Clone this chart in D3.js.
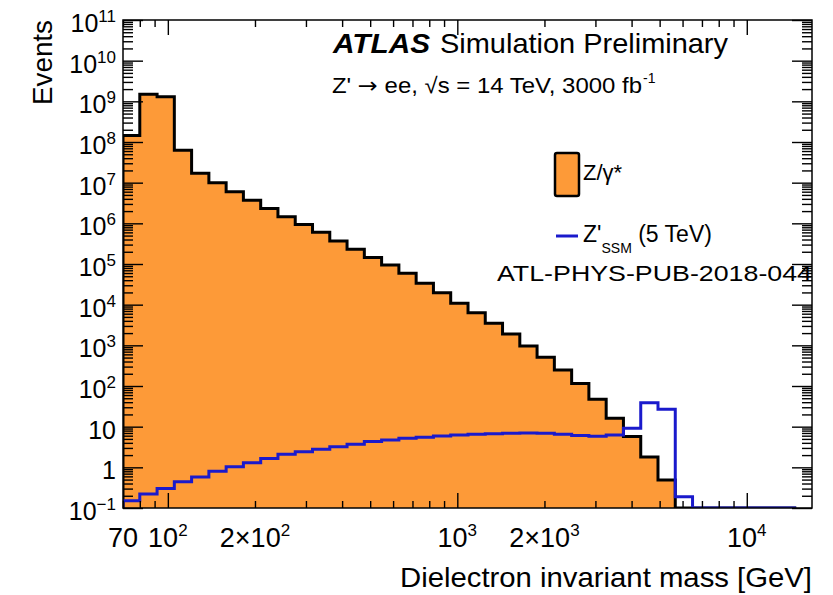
<!DOCTYPE html>
<html>
<head>
<meta charset="utf-8">
<script src="https://cdn.jsdelivr.net/npm/d3@7"></script>
<style>
  body { margin: 0; background: #fff; }
  svg { display: block; font-family: "Liberation Sans", Arial, Helvetica, sans-serif; }
</style>
</head>
<body>
<svg id="chart"></svg>
<script>
// histogram bin edges, dielectron mass [GeV]
const binEdges = [70, 80, 91.8, 105.3, 120.8, 138.6, 159.0, 182.4, 209.3, 240.1,
  275.5, 316.1, 362.6, 416.0, 477.3, 547.6, 628.3, 720.8, 827.0, 948.8,
  1089, 1249, 1433, 1644, 1886, 2164, 2483, 2848, 3268, 3749,
  4302, 4935, 5662, 6496, 7453, 8551, 9811, 11256, 12914, 14817];

// Z/gamma* Drell-Yan events per bin
const dyEvents = [1.45e8, 1.5e9, 1.3e9, 6.3e7, 1.7e7, 1.0e7, 6.0e6, 3.7e6, 2.3e6, 1.45e6,
  9.4e5, 6.0e5, 3.7e5, 2.3e5, 1.45e5, 9.4e4, 5.9e4, 3.35e4, 1.97e4, 1.08e4,
  6.3e3, 3.5e3, 1.9e3, 960, 507, 247, 116, 47, 16, 5.7,
  1.8, 0.49, 0, 0, 0, 0, 0, 0, 0];

// Z'_SSM (5 TeV) signal events per bin
const zpEvents = [0.15, 0.22, 0.30, 0.44, 0.58, 0.80, 1.04, 1.3, 1.66, 2.1,
  2.4, 2.8, 3.2, 3.7, 4.3, 4.7, 5.2, 5.5, 5.9, 6.2,
  6.5, 6.7, 6.9, 7.0, 6.9, 6.5, 6.1, 5.8, 6.2, 9.1,
  38.8, 26.7, 0.19, 0, 0, 0, 0, 0, 0];

// axis ticks and labels
const yTickExps = [-1, 0, 1, 2, 3, 4, 5, 6, 7, 8, 9, 10, 11];
const xMajorTicks = [100, 1000, 10000];
const xMinorTicks = [70, 80, 90, 200, 300, 400, 500, 600, 700, 800, 900,
  2000, 3000, 4000, 5000, 6000, 7000, 8000, 9000];
const xLabelValues = [70, 100, 200, 1000, 2000, 10000];
const xLabelBase = ["70", "10", "2\u00d710", "10", "2\u00d710", "10"];
const xLabelExp = ["", "2", "2", "3", "3", "4"];

const W = 833, H = 595;
const frame = {left: 123, top: 20, right: 812, bottom: 508};
const orange = "#fd9a38", blue = "#1a1acc";

const svg = d3.select("#chart").attr("width", W).attr("height", H);

const x = d3.scaleLog().domain([70, 16800]).range([frame.left, frame.right]);
const y = d3.scaleLog().domain([0.1, 1e11]).range([frame.bottom, frame.top]).clamp(true);
const yFloor = y.domain()[0];

svg.append("clipPath").attr("id", "plotclip")
  .append("rect")
  .attr("x", frame.left).attr("y", frame.top)
  .attr("width", frame.right - frame.left).attr("height", frame.bottom - frame.top);

// step outline points for a histogram
function stepPoints(vals) {
  const pts = [[binEdges[0], 0]];
  vals.forEach((v, i) => {
    pts.push([binEdges[i], v]);
    pts.push([binEdges[i + 1], v]);
  });
  pts.push([binEdges[binEdges.length - 1], 0]);
  return pts;
}

const yOf = v => y(Math.max(v, yFloor * 1e-3));
const stepLine = d3.line().x(d => x(d[0])).y(d => yOf(d[1]));
const stepArea = d3.area().x(d => x(d[0])).y0(y(yFloor)).y1(d => yOf(d[1]));

const plot = svg.append("g").attr("clip-path", "url(#plotclip)");

plot.append("path")
  .datum(stepPoints(dyEvents))
  .attr("fill", orange)
  .attr("d", stepArea);

plot.append("path")
  .datum(stepPoints(dyEvents))
  .attr("fill", "none")
  .attr("stroke", "#000")
  .attr("stroke-width", 3)
  .attr("stroke-linejoin", "miter")
  .attr("d", stepLine);

// ticks
function yMinorValues() {
  const out = [];
  yTickExps.slice(0, -1).forEach(k => {
    for (let n = 2; n <= 9; n++) out.push(n * Math.pow(10, k));
  });
  return out;
}
const yMajorValues = yTickExps.map(k => Math.pow(10, k));

function tickStyle(g) {
  g.select(".domain").remove();
  g.selectAll("line").attr("stroke", "#000").attr("stroke-width", 1.4);
  g.selectAll("text").remove();
}

svg.append("g").attr("transform", `translate(0,${frame.bottom})`)
  .call(d3.axisBottom(x).tickValues(xMajorTicks).tickSize(-15).tickFormat(""))
  .call(tickStyle);
svg.append("g").attr("transform", `translate(0,${frame.bottom})`)
  .call(d3.axisBottom(x).tickValues(xMinorTicks).tickSize(-7).tickFormat(""))
  .call(tickStyle);
svg.append("g").attr("transform", `translate(0,${frame.top})`)
  .call(d3.axisTop(x).tickValues(xMajorTicks).tickSize(-15).tickFormat(""))
  .call(tickStyle);
svg.append("g").attr("transform", `translate(0,${frame.top})`)
  .call(d3.axisTop(x).tickValues(xMinorTicks).tickSize(-7).tickFormat(""))
  .call(tickStyle);

svg.append("g").attr("transform", `translate(${frame.left},0)`)
  .call(d3.axisLeft(y).tickValues(yMajorValues).tickSize(-20).tickFormat(""))
  .call(tickStyle);
svg.append("g").attr("transform", `translate(${frame.left},0)`)
  .call(d3.axisLeft(y).tickValues(yMinorValues()).tickSize(-10).tickFormat(""))
  .call(tickStyle);
svg.append("g").attr("transform", `translate(${frame.right},0)`)
  .call(d3.axisRight(y).tickValues(yMajorValues).tickSize(-20).tickFormat(""))
  .call(tickStyle);
svg.append("g").attr("transform", `translate(${frame.right},0)`)
  .call(d3.axisRight(y).tickValues(yMinorValues()).tickSize(-10).tickFormat(""))
  .call(tickStyle);

// Z' signal line
plot.append("path")
  .datum(stepPoints(zpEvents))
  .attr("fill", "none")
  .attr("stroke", blue)
  .attr("stroke-width", 3)
  .attr("d", stepLine);

// frame
svg.append("rect")
  .attr("x", frame.left).attr("y", frame.top)
  .attr("width", frame.right - frame.left).attr("height", frame.bottom - frame.top)
  .attr("fill", "none").attr("stroke", "#000").attr("stroke-width", 1.5);

// y tick labels
yTickExps.forEach(k => {
  const t = svg.append("text")
    .attr("x", 116).attr("y", y(Math.pow(10, k)) + 12)
    .attr("text-anchor", "end")
    .attr("font-size", 25);
  if (k === 0) { t.text("1"); return; }
  if (k === 1) { t.text("10"); return; }
  t.append("tspan").text("10");
  t.append("tspan").attr("font-size", 17).attr("dy", -10)
    .text(k < 0 ? "\u2212" + (-k) : String(k));
});

// x tick labels
xLabelValues.forEach((v, i) => {
  const t = svg.append("text")
    .attr("x", x(v)).attr("y", 547)
    .attr("text-anchor", "middle")
    .attr("font-size", 27);
  t.append("tspan").text(xLabelBase[i]);
  if (xLabelExp[i]) {
    t.append("tspan").attr("font-size", 17).attr("dy", -11).text(xLabelExp[i]);
  }
});

// axis titles
svg.append("text")
  .attr("x", frame.right).attr("y", 587)
  .attr("text-anchor", "end")
  .attr("font-size", 28)
  .attr("textLength", 412).attr("lengthAdjust", "spacingAndGlyphs")
  .text("Dielectron invariant mass [GeV]");

svg.append("text")
  .attr("transform", `translate(52,${frame.top}) rotate(-90)`)
  .attr("text-anchor", "end")
  .attr("font-size", 28)
  .attr("textLength", 85).attr("lengthAdjust", "spacingAndGlyphs")
  .text("Events");

// ATLAS label
svg.append("text")
  .attr("x", 333).attr("y", 53)
  .attr("font-size", 28).attr("font-weight", "bold").attr("font-style", "italic")
  .attr("textLength", 97).attr("lengthAdjust", "spacingAndGlyphs")
  .text("ATLAS");
svg.append("text")
  .attr("x", 440).attr("y", 53)
  .attr("font-size", 28)
  .attr("textLength", 288).attr("lengthAdjust", "spacingAndGlyphs")
  .text("Simulation Preliminary");

const sub = svg.append("text")
  .attr("x", 332).attr("y", 93)
  .attr("font-size", 22)
  .attr("textLength", 310).attr("lengthAdjust", "spacingAndGlyphs");
sub.append("tspan").text("Z' ");
sub.append("tspan").attr("font-family", "DejaVu Sans").text("\u2192");
sub.append("tspan").text(" ee, \u221as = 14 TeV, 3000 fb");
svg.append("text")
  .attr("x", 643).attr("y", 83)
  .attr("font-size", 14)
  .text("-1");

// legend
svg.append("rect")
  .attr("x", 555).attr("y", 153).attr("width", 24).attr("height", 43)
  .attr("rx", 2)
  .attr("fill", orange).attr("stroke", "#000").attr("stroke-width", 2.5);
svg.append("text")
  .attr("x", 583).attr("y", 180)
  .attr("font-size", 22)
  .text("Z/\u03b3*");

svg.append("line")
  .attr("x1", 556).attr("x2", 578).attr("y1", 236).attr("y2", 236)
  .attr("stroke", blue).attr("stroke-width", 3);
const zl = svg.append("text")
  .attr("x", 583).attr("y", 242)
  .attr("font-size", 23);
zl.append("tspan").text("Z'");
zl.append("tspan").attr("font-size", 14).attr("dy", 11).text("SSM");
zl.append("tspan").attr("dy", -11).text(" (5 TeV)");

svg.append("text")
  .attr("x", 497).attr("y", 281)
  .attr("font-size", 22)
  .attr("textLength", 315).attr("lengthAdjust", "spacingAndGlyphs")
  .text("ATL-PHYS-PUB-2018-044");
</script>
</body>
</html>
